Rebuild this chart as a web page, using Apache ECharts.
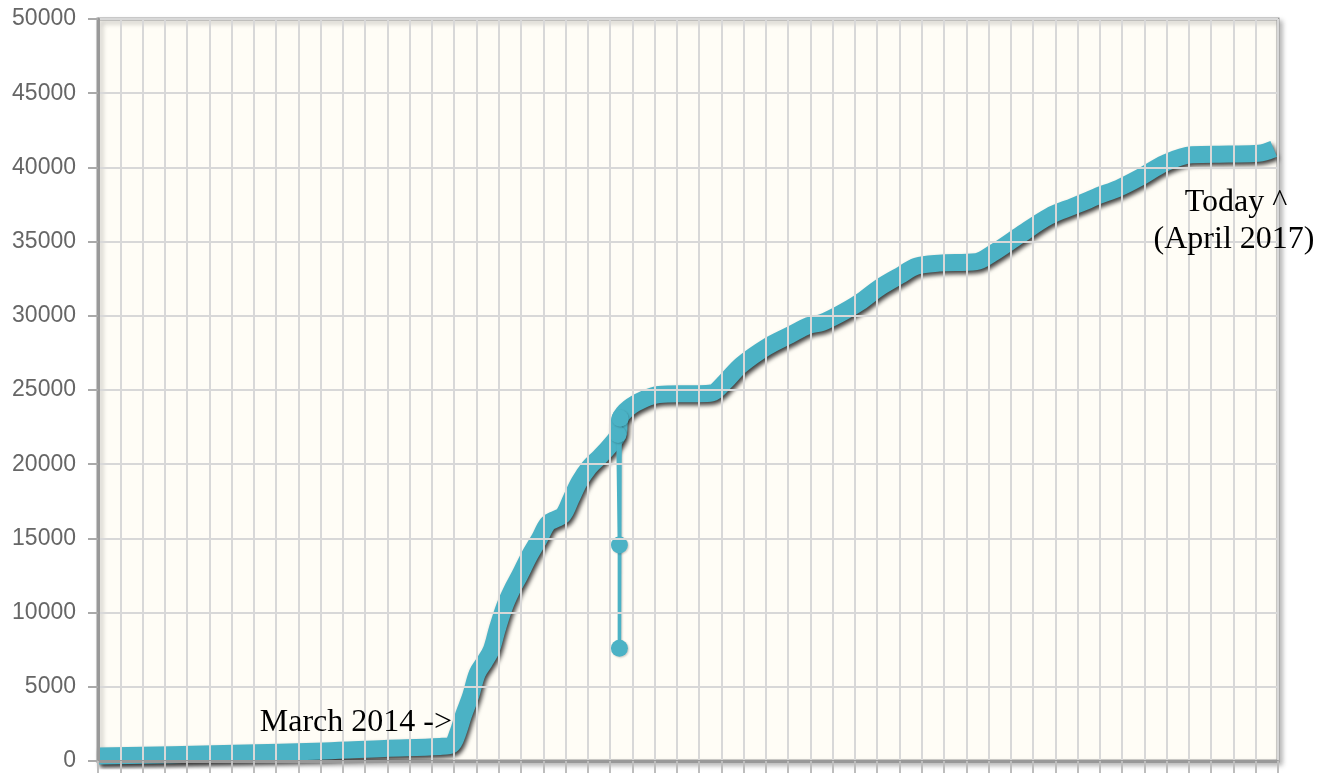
<!DOCTYPE html>
<html>
<head>
<meta charset="utf-8">
<script src="https://cdn.jsdelivr.net/npm/echarts@6/dist/echarts.min.js"></script>
<style>
html,body{margin:0;padding:0;background:#fff;}
#chart{width:1332px;height:773px;}
</style>
</head>
<body>
<div id="chart"></div>
<script>
// Cumulative total (x axis: one grid column per month, Nov 2012 .. Apr 2017)
const dates = [
  '2012-11-01','2013-02-10','2013-05-05','2013-09-06','2013-11-27','2014-02-11','2014-02-26',
  '2014-03-06','2014-03-14','2014-03-24','2014-04-02','2014-04-12','2014-04-21','2014-04-29',
  '2014-05-09','2014-05-19','2014-05-30','2014-06-12','2014-06-26','2014-07-07','2014-07-18',
  '2014-07-29','2014-08-09','2014-08-20','2014-09-03','2014-09-17','2014-09-30','2014-10-12',
  '2014-10-15','2014-10-27','2014-11-17','2014-12-07','2015-01-04','2015-02-01','2015-02-17',
  '2015-03-05','2015-03-29','2015-05-02','2015-06-03','2015-06-29','2015-07-17','2015-08-10',
  '2015-09-07','2015-10-04','2015-11-01','2015-11-24','2015-12-25','2016-02-14','2016-03-06',
  '2016-04-12','2016-05-23','2016-06-26','2016-07-16','2016-07-30','2016-08-27','2016-09-24',
  '2016-10-30','2016-12-05','2017-01-25','2017-03-05','2017-03-26'
];
const totals = [
  330, 420, 520, 680, 850, 980, 1100,
  1900, 3100, 4400, 5900, 6700, 7500, 8900,
  10400, 11500, 12500, 13800, 15000, 16000, 16300,
  16600, 17700, 18800, 19800, 20500, 21200, 22000,
  23100, 23800, 24400, 24700, 24750, 24750, 24800,
  25500, 26700, 27900, 28700, 29350, 29550, 30100,
  30900, 31900, 32700, 33350, 33550, 33650, 34200,
  35400, 36700, 37400, 37800, 38100, 38600, 39300,
  40300, 40850, 40900, 40950, 41250
];
// the short drop in October 2014
const dipDates = ['2014-10-12','2014-10-14','2014-10-14','2014-10-15'];
const dipValues = [22000, 14550, 7600, 23100];
const yTicks = [0, 5000, 10000, 15000, 20000, 25000, 30000, 35000, 40000, 45000, 50000];

function monthIndex(s) {
  const p = s.split('-').map(Number);
  const dim = new Date(p[0], p[1], 0).getDate();
  return (p[0] - 2012) * 12 + (p[1] - 11) + (p[2] - 1) / dim;
}

const bandData = dates.map((d, i) => [monthIndex(d), totals[i]]);
const dipData = dipDates.map((d, i) => [monthIndex(d), dipValues[i]]);

const teal = '#4bb2c5';
const serif = '32px "Liberation Serif", "Times New Roman", serif';
const chart = echarts.init(document.getElementById('chart'), null, {renderer: 'canvas'});
chart.setOption({
  animation: false,
  backgroundColor: '#ffffff',
  grid: {
    left: 98, right: 54, top: 19, bottom: 12,
    show: true,
    backgroundColor: '#fffdf6',
    borderColor: '#999999',
    borderWidth: 3,
    shadowColor: 'rgba(0,0,0,0.25)',
    shadowBlur: 5,
    shadowOffsetX: 3,
    shadowOffsetY: 3
  },
  xAxis: {
    type: 'value',
    min: 0, max: 53, interval: 1,
    z: 5,
    axisLine: {show: true, onZero: false, lineStyle: {color: '#999999', width: 3}},
    axisTick: {show: true, inside: false, length: 14, lineStyle: {color: '#bdbdbd', width: 2}},
    axisLabel: {show: false},
    splitLine: {show: true, lineStyle: {color: '#d8d8d8', width: 2}}
  },
  yAxis: {
    type: 'value',
    min: yTicks[0], max: yTicks[yTicks.length - 1], interval: yTicks[1] - yTicks[0],
    z: 5,
    axisLine: {show: true, lineStyle: {color: '#999999', width: 3}},
    axisTick: {show: true, inside: false, length: 10, lineStyle: {color: '#aaaaaa', width: 2}},
    axisLabel: {
      show: true, margin: 22, color: '#666666',
      fontFamily: 'Liberation Sans, Arial, sans-serif', fontSize: 23,
      formatter: function (v) { return String(v); }
    },
    splitLine: {show: true, lineStyle: {color: '#d8d8d8', width: 2}}
  },
  series: [
    {
      type: 'line',
      data: bandData,
      showSymbol: false,
      symbol: 'none',
      smooth: 0.35,
      clip: true,
      lineStyle: {
        color: teal, width: 17, cap: 'butt', join: 'round',
        shadowColor: 'rgba(0,0,0,0.75)', shadowBlur: 4, shadowOffsetX: 2, shadowOffsetY: 3
      },
      z: 2
    },
    {
      type: 'line',
      data: dipData,
      symbol: 'circle',
      symbolSize: 17,
      showSymbol: true,
      clip: true,
      itemStyle: {color: teal, shadowColor: 'rgba(0,0,0,0.2)', shadowBlur: 2, shadowOffsetX: 1, shadowOffsetY: 1},
      lineStyle: {color: teal, width: 3.5, shadowColor: 'rgba(0,0,0,0.2)', shadowBlur: 2, shadowOffsetX: 1, shadowOffsetY: 1},
      z: 3
    }
  ],
  graphic: [
    {type: 'text', x: 452, y: 723, z: 10,
     style: {text: 'March 2014 ->', fill: '#000', align: 'right', verticalAlign: 'middle', font: serif}},
    {type: 'text', x: 1236, y: 203, z: 10,
     style: {text: 'Today ^', fill: '#000', align: 'center', verticalAlign: 'middle', font: serif}},
    {type: 'text', x: 1234, y: 240, z: 10,
     style: {text: '(April 2017)', fill: '#000', align: 'center', verticalAlign: 'middle', font: serif}}
  ]
});
</script>
</body>
</html>
